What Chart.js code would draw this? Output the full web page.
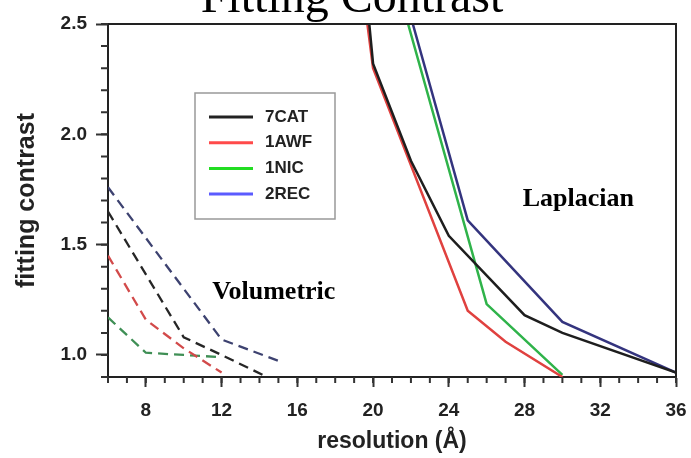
<!DOCTYPE html>
<html>
<head>
<meta charset="utf-8">
<script src="https://cdn.jsdelivr.net/npm/chart.js@4.4.0/dist/chart.umd.min.js"></script>
<style>
  html, body { margin: 0; padding: 0; background: #fff; }
</style>
</head>
<body>
<canvas id="my_chart" width="691" height="458"></canvas>
<script>
const seriesNames = ['7CAT', '1AWF', '1NIC', '2REC'];

// volumetric fit (dashed)
const volRes7CAT = [6, 10, 12, 14.4];
const volFit7CAT = [1.65, 1.08, 1.0, 0.9];
const volRes1AWF = [6, 8, 10, 12];
const volFit1AWF = [1.45, 1.16, 1.03, 0.92];
const volRes1NIC = [6, 8, 10, 12];
const volFit1NIC = [1.17, 1.01, 1.0, 0.99];
const volRes2REC = [6, 12, 15.1];
const volFit2REC = [1.76, 1.07, 0.97];

// laplacian fit (solid)
const lapRes7CAT = [19.8, 20, 22, 24, 28, 30, 36];
const lapFit7CAT = [2.5, 2.32, 1.88, 1.54, 1.18, 1.1, 0.92];
const lapRes1AWF = [19.7, 20, 25, 27, 30];
const lapFit1AWF = [2.5, 2.3, 1.2, 1.06, 0.9];
const lapRes1NIC = [21.85, 26, 30];
const lapFit1NIC = [2.5, 1.23, 0.91];
const lapRes2REC = [22.1, 25, 30, 36];
const lapFit2REC = [2.5, 1.61, 1.15, 0.92];

const xTicks = [8, 12, 16, 20, 24, 28, 32, 36];
const yTicks = [1.0, 1.5, 2.0, 2.5];

const lapColors = ['#1e1e1e', '#e0413f', '#2fb34a', '#34347e'];
const volColors = ['#262626', '#d24a4a', '#3f8f55', '#3d4270'];
const legendColors = ['#222222', '#ff4a4a', '#22dd22', '#5b5bff'];

const zip = (xs, ys) => xs.map((v, i) => ({ x: v, y: ys[i] }));

const lapData = [zip(lapRes7CAT, lapFit7CAT), zip(lapRes1AWF, lapFit1AWF), zip(lapRes1NIC, lapFit1NIC), zip(lapRes2REC, lapFit2REC)];
const volData = [zip(volRes7CAT, volFit7CAT), zip(volRes1AWF, volFit1AWF), zip(volRes1NIC, volFit1NIC), zip(volRes2REC, volFit2REC)];

const datasets = [];
seriesNames.forEach((name, i) => {
    datasets.push({
        label: name + ' volumetric',
        data: volData[i],
        borderColor: volColors[i],
        borderWidth: 2.3,
        borderDash: [10, 6],
        pointRadius: 0,
        tension: 0
    });
});
seriesNames.forEach((name, i) => {
    datasets.push({
        label: name,
        data: lapData[i],
        borderColor: lapColors[i],
        borderWidth: 2.5,
        pointRadius: 0,
        tension: 0
    });
});

const sans = '"Liberation Sans", Arial, sans-serif';
const serif = '"Liberation Serif", "Times New Roman", serif';

const extras = {
    id: 'extras',
    afterDraw(chart) {
        const { ctx, chartArea: a, scales: { x, y } } = chart;
        ctx.save();

        // top and right frame
        ctx.strokeStyle = '#222';
        ctx.lineWidth = 2;
        ctx.beginPath();
        ctx.moveTo(a.left, a.top);
        ctx.lineTo(a.right, a.top);
        ctx.lineTo(a.right, a.bottom);
        ctx.stroke();

        // minor ticks
        ctx.strokeStyle = '#333';
        ctx.beginPath();
        for (let v = x.min; v <= x.max; v++) {
            const px = x.getPixelForValue(v);
            ctx.moveTo(px, a.bottom);
            ctx.lineTo(px, a.bottom + 6);
        }
        for (let i = 0; i <= 16; i++) {
            const py = y.getPixelForValue(y.min + i * 0.1);
            ctx.moveTo(a.left, py);
            ctx.lineTo(a.left - 7, py);
        }
        ctx.stroke();

        // title, cut by the top edge
        ctx.fillStyle = '#000';
        ctx.font = '48px ' + serif;
        ctx.textAlign = 'center';
        ctx.textBaseline = 'alphabetic';
        ctx.fillText('Fitting Contrast', (a.left + a.right) / 2 - 40, a.top - 12);

        // annotations
        ctx.font = 'bold 26px ' + serif;
        ctx.textAlign = 'left';
        ctx.fillText('Laplacian', x.getPixelForValue(27.9), y.getPixelForValue(1.673));
        ctx.fillText('Volumetric', x.getPixelForValue(11.5), y.getPixelForValue(1.255));

        // legend box
        const lx = a.left + 87, ly = a.top + 69;
        ctx.fillStyle = '#fff';
        ctx.fillRect(lx, ly, 140, 126);
        ctx.strokeStyle = '#999';
        ctx.lineWidth = 1.5;
        ctx.strokeRect(lx, ly, 140, 126);
        ctx.font = 'bold 17px ' + sans;
        ctx.textBaseline = 'middle';
        seriesNames.forEach((name, i) => {
            const yy = ly + 24 + i * 25.7;
            ctx.strokeStyle = legendColors[i];
            ctx.lineWidth = 3;
            ctx.beginPath();
            ctx.moveTo(lx + 14, yy);
            ctx.lineTo(lx + 58, yy);
            ctx.stroke();
            ctx.fillStyle = '#222';
            ctx.fillText(name, lx + 70, yy);
        });
        ctx.restore();
    }
};

new Chart(document.getElementById('my_chart'), {
    type: 'line',
    data: { datasets },
    options: {
        responsive: false,
        animation: false,
        devicePixelRatio: 1,
        layout: { padding: { top: 24, right: 15, left: 0, bottom: 0 } },
        plugins: {
            legend: { display: false },
            tooltip: { enabled: false }
        },
        scales: {
            x: {
                type: 'linear',
                min: 6,
                max: 36,
                afterBuildTicks: (s) => { s.ticks = xTicks.map((v) => ({ value: v })); },
                afterFit: (s) => { s.height = 81; s.paddingLeft = 0; s.paddingRight = 0; },
                ticks: { font: { family: sans, size: 19, weight: 'bold' }, color: '#222', padding: 12, maxRotation: 0, autoSkip: false },
                grid: { drawOnChartArea: false, tickLength: 10, tickWidth: 2, tickColor: '#333' },
                border: { color: '#222', width: 2 },
                title: { display: true, text: 'resolution (Å)', color: '#222', font: { family: sans, size: 23, weight: 'bold' }, padding: { top: 3, bottom: 3 } }
            },
            y: {
                type: 'linear',
                min: 0.9,
                max: 2.5,
                afterBuildTicks: (s) => { s.ticks = yTicks.map((v) => ({ value: v })); },
                afterFit: (s) => { s.width = 108; },
                ticks: { font: { family: sans, size: 19, weight: 'bold' }, color: '#222', padding: 9, callback: (v) => v.toFixed(1) },
                grid: { drawOnChartArea: false, tickLength: 12, tickWidth: 2, tickColor: '#333' },
                border: { color: '#222', width: 2 },
                title: { display: true, text: 'fitting contrast', color: '#222', font: { family: sans, size: 25, weight: 'bold' }, padding: { top: 12, bottom: 0 } }
            }
        }
    },
    plugins: [extras]
});
</script>
</body>
</html>
